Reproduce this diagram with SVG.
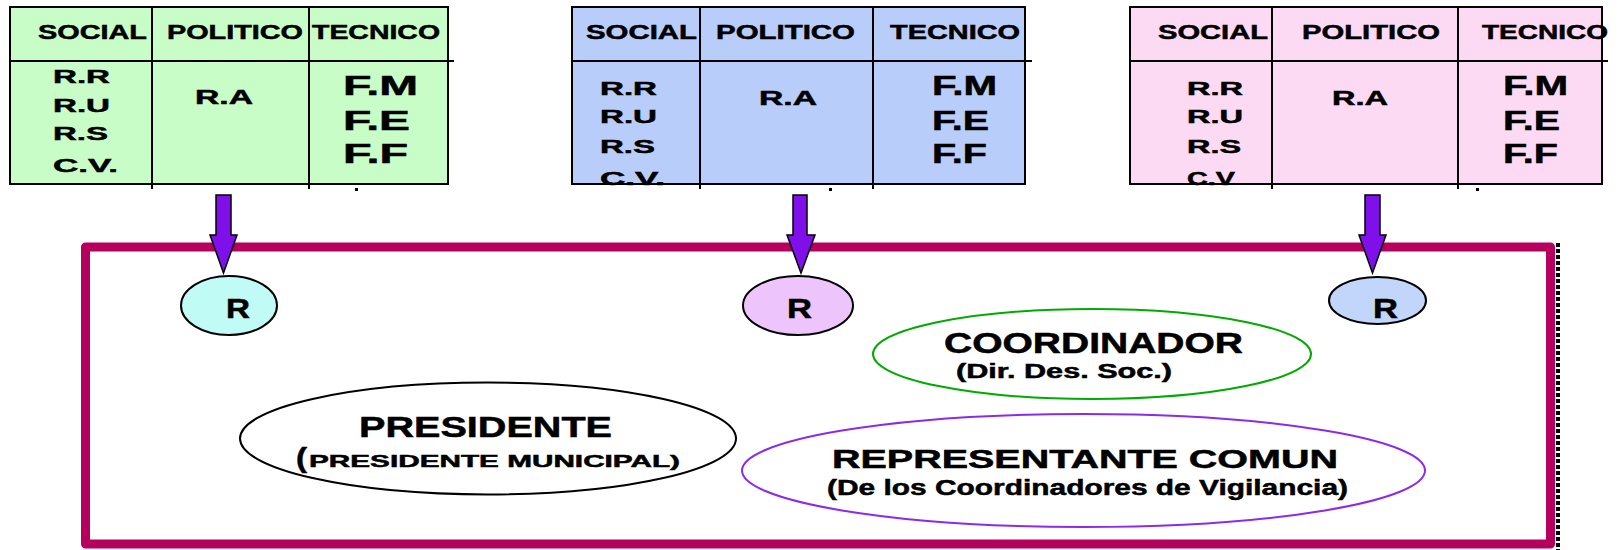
<svg xmlns="http://www.w3.org/2000/svg" width="1620" height="550" viewBox="0 0 1620 550">
<style>
text{font-family:"Liberation Sans",Arial,sans-serif;font-weight:bold;fill:#000;stroke:#000;stroke-width:0.5}
.ln{stroke:#000;stroke-width:2;fill:none}
.h{font-size:20px}
.s{font-size:19px}
.ra{font-size:20px}
.f{font-size:28px}
.r{font-size:28px}
.arrow{fill:#7F10EA;stroke:#000;stroke-width:1.5;stroke-linejoin:miter}
.rel{stroke:#000;stroke-width:2}
.dot{fill:#000}
</style>
<rect width="1620" height="550" fill="#fff"/>

<g id="table-green">
<rect x="10" y="7" width="438" height="177" fill="#C8FDC8"/>
<text class="h" x="38" y="39" textLength="109" lengthAdjust="spacingAndGlyphs">SOCIAL</text>
<text class="h" x="167" y="39" textLength="136" lengthAdjust="spacingAndGlyphs">POLITICO</text>
<text class="h" x="312" y="39" textLength="128" lengthAdjust="spacingAndGlyphs">TECNICO</text>
<text class="s" x="53" y="83" textLength="57" lengthAdjust="spacingAndGlyphs">R.R</text>
<text class="s" x="53" y="112" textLength="57" lengthAdjust="spacingAndGlyphs">R.U</text>
<text class="s" x="53" y="140" textLength="55" lengthAdjust="spacingAndGlyphs">R.S</text>
<text class="s" x="53" y="172" textLength="65" lengthAdjust="spacingAndGlyphs">C.V.</text>
<text class="ra" x="195" y="104" textLength="58" lengthAdjust="spacingAndGlyphs">R.A</text>
<text class="f" x="343" y="95" textLength="75" lengthAdjust="spacingAndGlyphs">F.M</text>
<text class="f" x="343" y="130" textLength="67" lengthAdjust="spacingAndGlyphs">F.E</text>
<text class="f" x="343" y="163" textLength="65" lengthAdjust="spacingAndGlyphs">F.F</text>
<rect x="10" y="7" width="438" height="177" class="ln"/>
<path class="ln" d="M10 61H454M152 7V189M309 7V189"/>
<rect class="dot" x="355" y="188" width="3" height="3"/>
</g>

<g id="table-blue">
<rect x="572" y="7" width="453" height="177" fill="#B9CDFA"/>
<text class="h" x="586" y="39" textLength="111" lengthAdjust="spacingAndGlyphs">SOCIAL</text>
<text class="h" x="716" y="39" textLength="139" lengthAdjust="spacingAndGlyphs">POLITICO</text>
<text class="h" x="890" y="39" textLength="130" lengthAdjust="spacingAndGlyphs">TECNICO</text>
<text class="s" x="600" y="95" textLength="57" lengthAdjust="spacingAndGlyphs">R.R</text>
<text class="s" x="600" y="123" textLength="57" lengthAdjust="spacingAndGlyphs">R.U</text>
<text class="s" x="600" y="153" textLength="55" lengthAdjust="spacingAndGlyphs">R.S</text>
<text class="s" x="600" y="185" textLength="65" lengthAdjust="spacingAndGlyphs">C.V.</text>
<text class="ra" x="759" y="105" textLength="58" lengthAdjust="spacingAndGlyphs">R.A</text>
<text class="f" x="932" y="95" textLength="65" lengthAdjust="spacingAndGlyphs">F.M</text>
<text class="f" x="932" y="130" textLength="57" lengthAdjust="spacingAndGlyphs">F.E</text>
<text class="f" x="932" y="163" textLength="55" lengthAdjust="spacingAndGlyphs">F.F</text>
<rect x="572" y="7" width="453" height="177" class="ln"/>
<path class="ln" d="M572 61H1032M700 7V189M873 7V189"/>
<rect class="dot" x="829" y="188" width="3" height="3"/>
</g>

<g id="table-pink">
<rect x="1130" y="7" width="472" height="177" fill="#FDDAF4"/>
<text class="h" x="1158" y="39" textLength="110" lengthAdjust="spacingAndGlyphs">SOCIAL</text>
<text class="h" x="1302" y="39" textLength="138" lengthAdjust="spacingAndGlyphs">POLITICO</text>
<text class="h" x="1482" y="39" textLength="126" lengthAdjust="spacingAndGlyphs">TECNICO</text>
<text class="s" x="1187" y="95" textLength="56" lengthAdjust="spacingAndGlyphs">R.R</text>
<text class="s" x="1187" y="123" textLength="56" lengthAdjust="spacingAndGlyphs">R.U</text>
<text class="s" x="1187" y="153" textLength="54" lengthAdjust="spacingAndGlyphs">R.S</text>
<text class="s" x="1187" y="185" textLength="48" lengthAdjust="spacingAndGlyphs">C.V</text>
<text class="ra" x="1332" y="105" textLength="56" lengthAdjust="spacingAndGlyphs">R.A</text>
<text class="f" x="1503" y="95" textLength="65" lengthAdjust="spacingAndGlyphs">F.M</text>
<text class="f" x="1503" y="130" textLength="57" lengthAdjust="spacingAndGlyphs">F.E</text>
<text class="f" x="1503" y="163" textLength="55" lengthAdjust="spacingAndGlyphs">F.F</text>
<rect x="1130" y="7" width="472" height="177" class="ln"/>
<path class="ln" d="M1130 61H1608M1272 7V189M1458 7V189"/>
<rect class="dot" x="1476" y="188" width="3" height="3"/>
</g>

<g id="frame">
<rect x="85.5" y="247" width="1465" height="297" fill="none" stroke="#B5005E" stroke-width="9" stroke-linejoin="round"/>
<line x1="1558" y1="243" x2="1558" y2="550" stroke="#000" stroke-width="4" stroke-dasharray="4 2"/>
</g>

<g id="connectors">
<polygon class="arrow" points="216,195 231,195 231,235 237,235 223.5,273 210,235 216,235"/>
<polygon class="arrow" points="793,195 807,195 807,235 815,235 801,273 787,235 793,235"/>
<polygon class="arrow" points="1365,195 1380,195 1380,235 1386,235 1372.5,273 1359,235 1365,235"/>
</g>

<g id="r1">
<ellipse class="rel" cx="229" cy="305.5" rx="48" ry="29.5" fill="#C0FCF5"/>
<text class="r" x="226" y="318" textLength="24" lengthAdjust="spacingAndGlyphs">R</text>
</g>
<g id="r2">
<ellipse class="rel" cx="798" cy="305.5" rx="55" ry="29.5" fill="#EEC4FC"/>
<text class="r" x="787" y="318" textLength="25" lengthAdjust="spacingAndGlyphs">R</text>
</g>
<g id="r3">
<ellipse class="rel" cx="1377.5" cy="300.5" rx="48.5" ry="23.5" fill="#C1D6FA"/>
<text class="r" x="1373" y="318" textLength="25" lengthAdjust="spacingAndGlyphs">R</text>
</g>

<g id="coordinador">
<ellipse cx="1092" cy="354" rx="219" ry="45" fill="none" stroke="#00AA00" stroke-width="2"/>
<text x="944" y="353" font-size="29" textLength="299" lengthAdjust="spacingAndGlyphs">COORDINADOR</text>
<text x="956" y="378" font-size="20" textLength="216" lengthAdjust="spacingAndGlyphs">(Dir. Des. Soc.)</text>
</g>

<g id="presidente">
<ellipse cx="488" cy="438.5" rx="248" ry="56" fill="none" stroke="#000" stroke-width="2"/>
<text x="359" y="437" font-size="30" textLength="253" lengthAdjust="spacingAndGlyphs">PRESIDENTE</text>
<text y="467"><tspan x="296" font-size="28" textLength="11" lengthAdjust="spacingAndGlyphs">(</tspan><tspan x="309" font-size="17" textLength="371" lengthAdjust="spacingAndGlyphs">PRESIDENTE MUNICIPAL)</tspan></text>
</g>

<g id="representante">
<ellipse cx="1083.5" cy="470.5" rx="341.5" ry="56.5" fill="none" stroke="#8B2BE8" stroke-width="2"/>
<text x="832" y="468" font-size="26" textLength="506" lengthAdjust="spacingAndGlyphs">REPRESENTANTE COMUN</text>
<text x="827" y="495" font-size="22" textLength="521" lengthAdjust="spacingAndGlyphs">(De los Coordinadores de Vigilancia)</text>
</g>
</svg>
